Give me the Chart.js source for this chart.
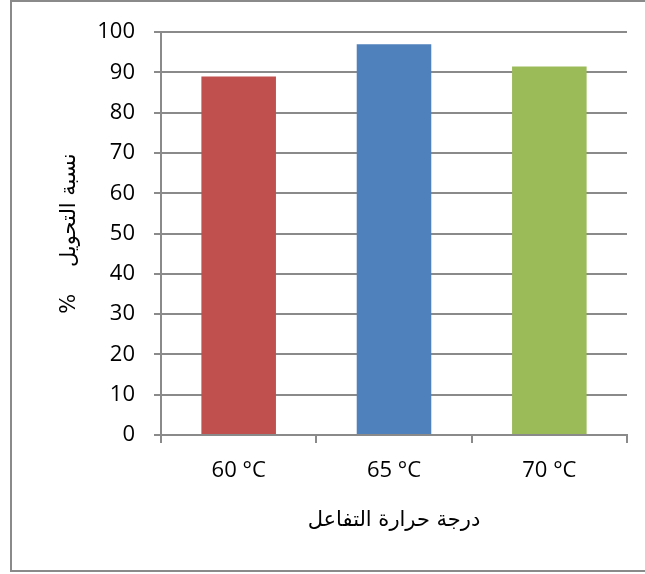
<!DOCTYPE html>
<html>
<head>
<meta charset="utf-8">
<script src="https://cdn.jsdelivr.net/npm/chart.js@4"></script>
<style>
    html, body { margin: 0; padding: 0; background: #ffffff; }
    #wrap { position: relative; width: 645px; height: 574px; overflow: hidden; }
    #frame {
        position: absolute; left: 10px; top: 0px; width: 660px; height: 572px;
        border: 2px solid #8a8a8a; box-sizing: border-box;
    }
    #chart { position: absolute; left: 0; top: 0; }
</style>
</head>
<body>
<div id="wrap">
    <div id="frame"></div>
    <canvas id="chart" width="645" height="574"></canvas>
</div>
<script>
// Chart data
const categories = ['60 °C', '65 °C', '70 °C'];
const conversion = [89, 97, 91.5];
const barColors = ['#C0504D', '#4F81BD', '#9BBB59'];
const yTitle = '%    نسبة التحويل';
const xTitle = 'درجة حرارة التفاعل';

const gridColor = '#8a8a8a';

const ctx = document.getElementById('chart').getContext('2d');
new Chart(ctx, {
    type: 'bar',
    data: {
        labels: categories,
        datasets: [{
            data: conversion,
            backgroundColor: barColors,
            borderWidth: 0,
            barPercentage: 0.48,
            categoryPercentage: 1
        }]
    },
    options: {
        responsive: false,
        animation: false,
        layout: {
            padding: { left: 0, top: 31, right: 18, bottom: 0 }
        },
        plugins: {
            legend: { display: false },
            tooltip: { enabled: false }
        },
        scales: {
            x: {
                grid: {
                    drawOnChartArea: false,
                    drawTicks: true,
                    tickLength: 8,
                    color: gridColor,
                    lineWidth: 2,
                    offset: true
                },
                border: { display: true, color: gridColor, width: 2 },
                ticks: {
                    color: '#000000',
                    font: { family: 'Open Sans', size: 22 },
                    padding: 15
                },
                title: {
                    display: true,
                    text: xTitle,
                    color: '#000000',
                    font: { family: 'DejaVu Sans', size: 21, lineHeight: 1.2 },
                    padding: { top: 0, bottom: 41 }
                },
                afterFit: function(scale) {
                    scale.height = 139;
                }
            },
            y: {
                min: 0,
                max: 100,
                ticks: {
                    stepSize: 10,
                    color: '#000000',
                    font: { family: 'Open Sans', size: 22 },
                    padding: 19
                },
                grid: {
                    color: gridColor,
                    lineWidth: 2,
                    tickLength: 7
                },
                border: { display: true, color: gridColor, width: 2 },
                title: {
                    display: true,
                    text: yTitle,
                    color: '#000000',
                    font: { family: 'DejaVu Sans', size: 21, lineHeight: 1.2 },
                    padding: { top: 57, bottom: 0 }
                },
                afterFit: function(scale) {
                    scale.width = 161;
                }
            }
        }
    }
});
</script>
</body>
</html>
